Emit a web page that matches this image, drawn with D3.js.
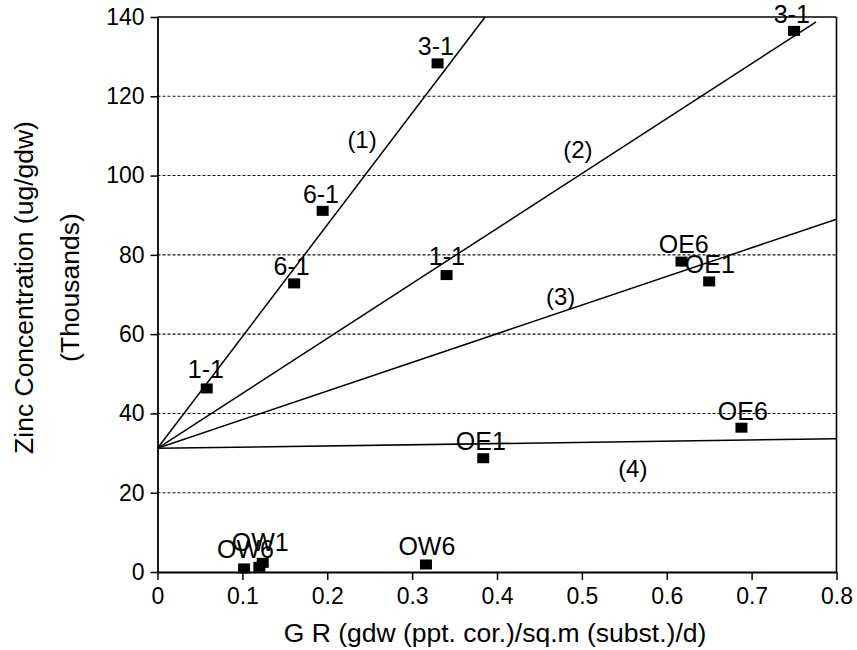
<!DOCTYPE html>
<html><head><meta charset="utf-8">
<script src="https://cdn.jsdelivr.net/npm/d3@7"></script>
<style>
body{margin:0;background:#fff;}
svg text{font-family:"Liberation Sans",Arial,sans-serif;fill:#000;}
</style></head>
<body><svg id="c" width="857" height="650"></svg>
<script>
// ---- data ----
const xTicks = [0, 0.1, 0.2, 0.3, 0.4, 0.5, 0.6, 0.7, 0.8];
const xTickLabels = ["0", "0.1", "0.2", "0.3", "0.4", "0.5", "0.6", "0.7", "0.8"];
const yTicks = [0, 20, 40, 60, 80, 100, 120, 140];
const yTickLabels = ["0", "20", "40", "60", "80", "100", "120", "140"];
const gridValues = [20, 40, 60, 80, 100, 120];

const pointNames = ["3-1", "6-1", "6-1", "1-1", "1-1", "3-1", "OE6", "OE1", "OE6", "OE1", "OW6", "OW6", "OW1", "OW1"];
const pointX = [0.330, 0.1946, 0.161, 0.058, 0.3406, 0.750, 0.6174, 0.650, 0.688, 0.3838, 0.3163, 0.102, 0.120, 0.124];
const pointY = [128.3, 91.1, 72.8, 46.3, 74.9, 136.5, 78.3, 73.3, 36.4, 28.7, 1.9, 0.9, 1.3, 2.3];

const labelText = ["3-1", "6-1", "6-1", "1-1", "1-1", "3-1", "OE6", "OE1", "OE6", "OE1", "OW6", "OW6", "OW1"];
const labelX = [0.328, 0.1926, 0.158, 0.057, 0.341, 0.7473, 0.620, 0.6507, 0.6896, 0.381, 0.3174, 0.1036, 0.121];
const labelY = [130.4, 93.1, 74.9, 48.9, 77.4, 138.5, 80.5, 75.4, 38.3, 30.8, 4.3, 3.6, 5.3];

const lineNames = ["(1)", "(2)", "(3)", "(4)"];
const lineX0 = [0, 0, 0, 0];
const lineY0 = [31.2, 31.2, 31.2, 31.2];
const lineX1 = [0.386, 0.776, 0.8, 0.8];
const lineY1 = [140, 138.8, 89.0, 33.6];
const lineLabelX = [0.241, 0.4953, 0.475, 0.560];
const lineLabelY = [107.0, 104.4, 67.4, 24.0];

const xTitle = "G R (gdw (ppt. cor.)/sq.m (subst.)/d)";
const yTitle1 = "Zinc Concentration (ug/gdw)";
const yTitle2 = "(Thousands)";

// ---- drawing ----
const svg = d3.select("#c");
const x = d3.scaleLinear().domain([0, 0.8]).range([157.5, 836.5]);
const y = d3.scaleLinear().domain([0, 140]).range([572, 17]);

// grid
svg.append("g").selectAll("line").data(gridValues).join("line")
  .attr("x1", x(0)).attr("x2", x(0.8))
  .attr("y1", d => y(d)).attr("y2", d => y(d))
  .attr("stroke", "#111").attr("stroke-width", 1.1).attr("stroke-dasharray", "3,2");

// frame top/right
svg.append("line").attr("x1", x(0)).attr("x2", x(0.8)).attr("y1", y(140)).attr("y2", y(140))
  .attr("stroke", "#000").attr("stroke-width", 1.6);
svg.append("line").attr("x1", x(0.8)).attr("x2", x(0.8)).attr("y1", y(140)).attr("y2", y(0))
  .attr("stroke", "#000").attr("stroke-width", 1.6);

// axes
const xAxis = d3.axisBottom(x).tickValues(xTicks).tickFormat((d, i) => xTickLabels[i])
  .tickSizeInner(8).tickSizeOuter(0).tickPadding(8);
const gx = svg.append("g").attr("transform", `translate(0,${y(0)})`).call(xAxis);
const yAxis = d3.axisLeft(y).tickValues(yTicks).tickFormat((d, i) => yTickLabels[i])
  .tickSizeInner(7).tickSizeOuter(0).tickPadding(6);
const gy = svg.append("g").attr("transform", `translate(${x(0)},0)`).call(yAxis);
[gx, gy].forEach(g => {
  g.select(".domain").attr("stroke", "#000").attr("stroke-width", 1.8);
  g.selectAll(".tick line").attr("stroke", "#000").attr("stroke-width", 1.5);
  g.selectAll(".tick text").attr("font-size", 23).attr("font-family", '"Liberation Sans",Arial,sans-serif').attr("fill", "#000");
});

// regression lines
svg.append("g").selectAll("line").data(lineNames).join("line")
  .attr("x1", (d, i) => x(lineX0[i])).attr("y1", (d, i) => y(lineY0[i]))
  .attr("x2", (d, i) => x(lineX1[i])).attr("y2", (d, i) => y(lineY1[i]))
  .attr("stroke", "#000").attr("stroke-width", 1.5);

svg.append("g").selectAll("text").data(lineNames).join("text")
  .attr("x", (d, i) => x(lineLabelX[i])).attr("y", (d, i) => y(lineLabelY[i]))
  .attr("text-anchor", "middle").attr("font-size", 24).text(d => d);

// markers
svg.append("g").selectAll("rect").data(pointNames).join("rect")
  .attr("x", (d, i) => x(pointX[i]) - 6).attr("y", (d, i) => y(pointY[i]) - 5)
  .attr("width", 12).attr("height", 10).attr("fill", "#000");

// point labels
svg.append("g").selectAll("text").data(labelText).join("text")
  .attr("x", (d, i) => x(labelX[i])).attr("y", (d, i) => y(labelY[i]))
  .attr("text-anchor", "middle").attr("font-size", 25).text(d => d);

// titles
svg.append("text").attr("x", (x(0) + x(0.8)) / 2 - 2).attr("y", 642)
  .attr("text-anchor", "middle").attr("font-size", 26.5).text(xTitle);
svg.append("text").attr("transform", `translate(33,${(y(0) + y(140)) / 2 - 7}) rotate(-90)`)
  .attr("text-anchor", "middle").attr("font-size", 26.5).text(yTitle1);
svg.append("text").attr("transform", `translate(79,${(y(0) + y(140)) / 2 - 7}) rotate(-90)`)
  .attr("text-anchor", "middle").attr("font-size", 26.5).text(yTitle2);
</script></body></html>
